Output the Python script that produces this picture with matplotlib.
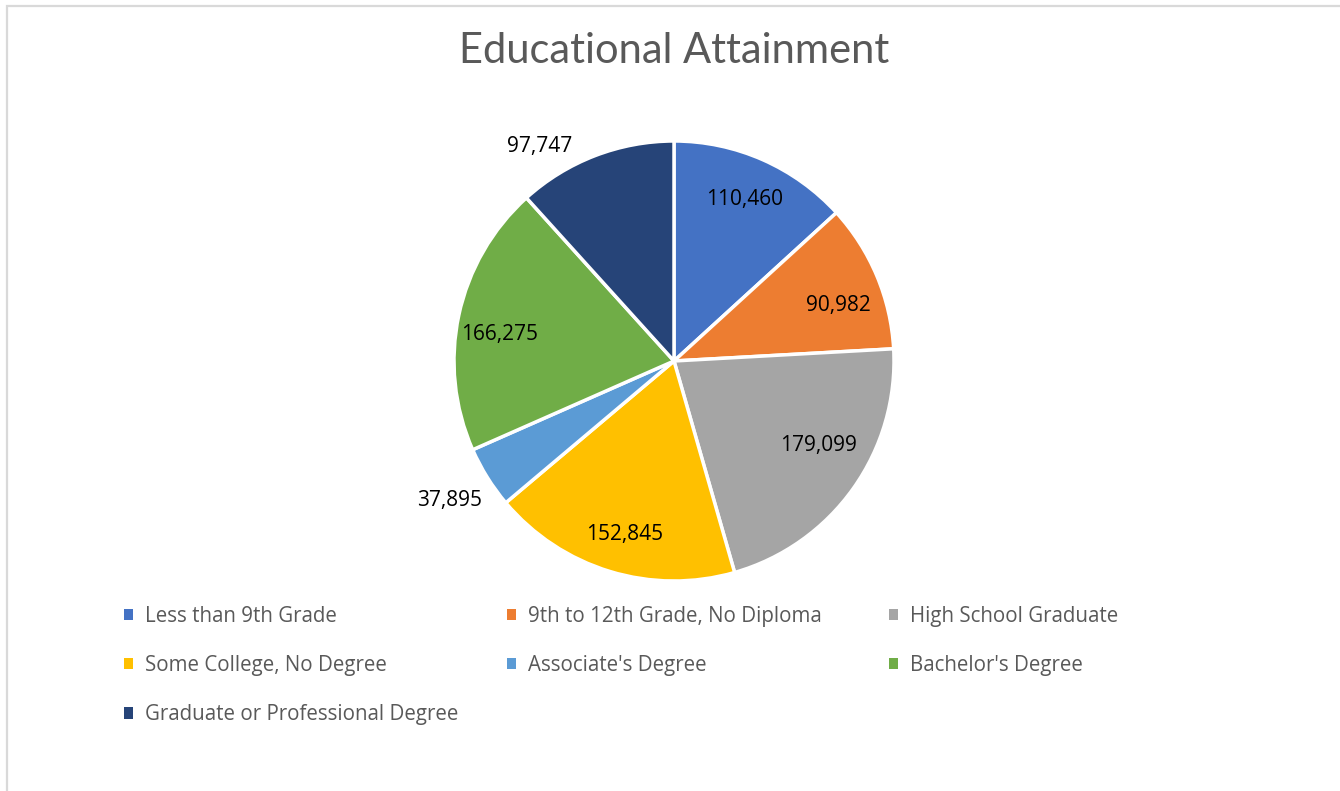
import matplotlib.pyplot as plt
from matplotlib.patches import Rectangle
import numpy as np

# Dữ liệu
categories = ["Less than 9th Grade", "9th to 12th Grade, No Diploma",
              "High School Graduate", "Some College, No Degree",
              "Associate's Degree", "Bachelor's Degree",
              "Graduate or Professional Degree"]
values = [110460, 90982, 179099, 152845, 37895, 166275, 97747]
colors = ["#4472C4", "#ED7D31", "#A5A5A5", "#FFC000",
          "#5B9BD5", "#70AD47", "#264478"]

W, H = 1340, 791
fig = plt.figure(figsize=(W / 100, H / 100), dpi=100)

# Viền khung biểu đồ
fig.add_artist(Rectangle((7 / W, -0.1), 1.2, 1.1 - 6 / H, transform=fig.transFigure,
                         fill=False, edgecolor="#D9D9D9", linewidth=1.6))

# Tiêu đề
fig.text(674 / W, 1 - 51 / H, "Educational Attainment", ha="center", va="center",
         fontsize=30, color="#595959", family="Lato")

# Đồ thị hình tròn
cx, cy, r = 674, 361, 220
ax = fig.add_axes([(cx - r) / W, (H - cy - r) / H, 2 * r / W, 2 * r / H])
wedges, _ = ax.pie(values, colors=colors, startangle=90, counterclock=False,
                   wedgeprops=dict(edgecolor="white", linewidth=2.5))
ax.set_xlim(-1, 1)
ax.set_ylim(-1, 1)
ax.set_aspect("equal")
ax.axis("off")

# Nhãn dữ liệu: (bán kính, lệch góc) cho từng lát
label_pos = [(0.80, 0), (0.79, -4), (0.76, 5), (0.82, 1), (1.2, 0), (0.80, 3.5), (1.15, 11)]
for w, v, (rad, dang) in zip(wedges, values, label_pos):
    ang = (w.theta1 + w.theta2) / 2 + dang
    x = rad * np.cos(np.radians(ang))
    y = rad * np.sin(np.radians(ang))
    ax.text(x, y, f"{v:,}", ha="center", va="center", fontsize=15,
            family="Open Sans", color="black")

# Chú thích (3 cột, xếp theo hàng)
col_x = [124, 507, 889]
for c in range(3):
    idx = list(range(c, len(categories), 3))
    leg = fig.legend([wedges[i] for i in idx], [categories[i] for i in idx],
                     loc="upper left", bbox_to_anchor=(col_x[c] / W, 1 - 606 / H),
                     frameon=False, ncol=1, handlelength=0.46, handleheight=0.46,
                     handletextpad=0.55, labelspacing=1.37, borderpad=0, borderaxespad=0,
                     prop=dict(family="Open Sans", size=14.8))
    for t in leg.get_texts():
        t.set_color("#595959")
    for hnd in leg.legend_handles:
        hnd.set_edgecolor("none")

fig.savefig("out.png", dpi=100)
